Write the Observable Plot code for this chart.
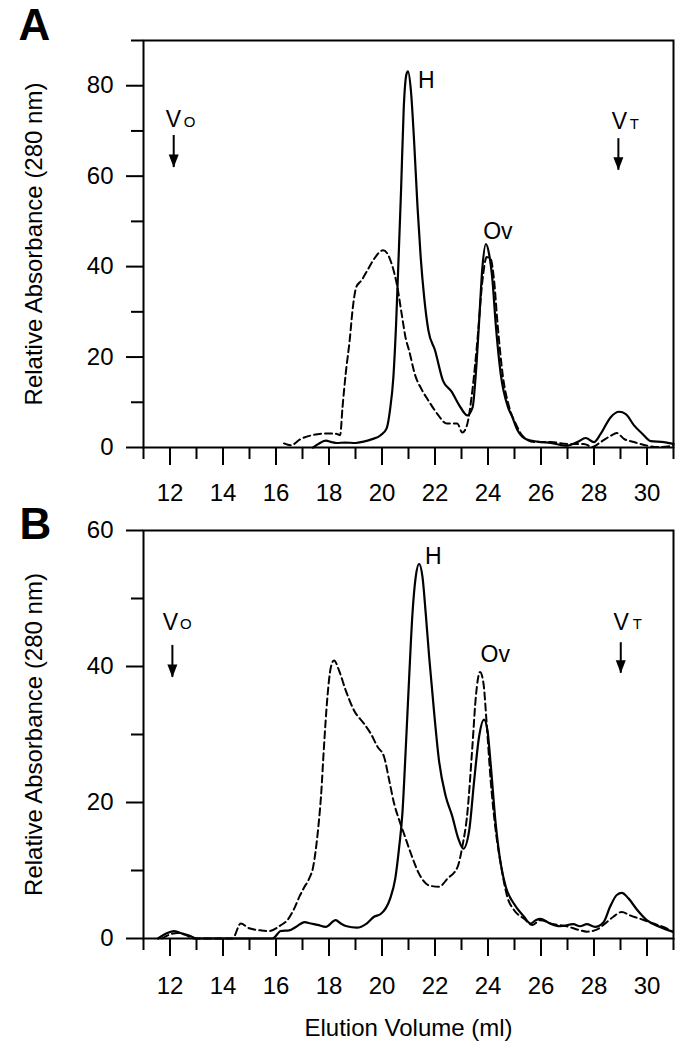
<!DOCTYPE html>
<html><head><meta charset="utf-8">
<script src="https://cdn.jsdelivr.net/npm/d3@7"></script>
<script src="https://cdn.jsdelivr.net/npm/@observablehq/plot@0.6"></script>
<style>body{margin:0;background:#fff} #chart svg{display:block}</style>
</head><body><div id="chart"></div>
<script>
// ---------- data ----------
const xMajor = [12, 14, 16, 18, 20, 22, 24, 26, 28, 30];
const xMinor = [11, 13, 15, 17, 19, 21, 23, 25, 27, 29, 31];
const yMajorA = [0, 20, 40, 60, 80];
const yMinorA = [10, 30, 50, 70, 90];
const yMajorB = [0, 20, 40, 60];
const yMinorB = [10, 30, 50];

// Panel A – solid trace
const volA_solid = [17.4,17.6,17.88,18.1,18.3,18.6,19.0,19.3,19.6,19.95,20.18,20.3,20.43,20.53,20.62,20.72,20.82,20.92,20.98,21.09,21.21,21.34,21.46,21.59,21.75,22.0,22.3,22.62,22.96,23.22,23.42,23.54,23.66,23.79,23.92,24.04,24.17,24.29,24.48,24.75,24.9,25.1,25.42,25.86,26.37,27.0,27.37,27.69,28.0,28.25,28.63,28.95,29.2,29.51,29.83,30.14,30.64,31.0];
const absA_solid = [0,0.8,1.5,1.2,1.0,1.1,1.0,1.3,1.8,2.7,4.3,8.2,15.6,27,41,57,75,82.5,83.2,79,67.9,53.2,42.1,33.3,25.9,21.5,14.8,12.4,8.9,7.1,8.9,16.3,27.4,39.9,45,42.8,36.9,27.4,16.3,9,7,4.0,1.9,1.3,1.0,0.4,1.2,2.1,1.2,3.0,6.7,7.9,7.4,4.9,3.0,1.4,1.2,0.8];

// Panel A – dashed trace
const volA_dashed = [16.3,16.56,16.94,17.43,17.95,18.3,18.42,18.51,18.63,18.78,18.9,19.03,19.22,19.45,19.69,20.04,20.21,20.38,20.57,20.73,20.9,21.02,21.25,21.5,21.75,22.08,22.45,22.84,23.03,23.2,23.41,23.6,23.79,23.95,24.1,24.23,24.36,24.55,24.8,25.05,25.3,25.74,26.37,27.0,27.62,27.94,28.25,28.63,28.86,29.13,29.51,30.02,30.4,31.0];
const absA_dashed = [0.9,0.5,1.9,2.8,3.1,3.0,2.7,8.9,16.3,23.7,31,35.5,36.9,39.2,41.6,43.6,42.8,40.3,35.8,30,24,21.5,16,12.8,10.4,7.5,5.3,5.3,3.3,4.8,12.6,23.7,36.9,42.1,41.7,36.9,27.4,16.3,8.9,5.2,2.6,1.2,1.2,0.8,0.8,0.1,1.2,2.6,3.2,1.9,1.2,0.4,0.1,0.4];

// Panel B – solid trace
const volB_solid = [11.55,11.9,12.16,12.47,12.79,12.98,15.87,16.18,16.5,16.75,17.08,17.31,17.57,17.88,18.25,18.45,18.67,19.05,19.42,19.7,19.95,20.3,20.5,20.65,20.77,20.9,21.02,21.15,21.27,21.4,21.53,21.65,21.78,21.97,22.15,22.4,22.65,22.87,23.07,23.29,23.48,23.66,23.85,23.98,24.1,24.29,24.48,24.67,24.98,25.36,25.61,25.8,25.99,26.34,26.72,27.22,27.47,27.73,28.04,28.36,28.61,28.86,29.05,29.3,29.61,29.99,30.49,30.97];
const absB_solid = [0,0.8,1.07,0.72,0.33,0,0,1.1,1.2,1.7,2.4,2.2,2.0,1.7,2.7,2.2,1.8,1.6,2.2,3.2,3.6,5.8,8.8,13.5,18.4,28.2,38.0,47.8,53.1,55.1,53.1,47.8,41.4,33.1,26.2,21.0,18.0,14.8,13.2,15.9,23.3,29.6,32.2,30.6,25.7,16.9,11.0,7.6,5.1,3.2,2.2,2.7,2.9,2.2,1.8,2.1,1.8,2.1,1.7,2.4,4.7,6.4,6.7,5.9,4.3,2.7,1.7,1.0];

// Panel B – dashed trace
const volB_dashed = [11.7,12.0,12.3,12.6,12.9,14.36,14.67,14.99,15.43,15.74,16.18,16.43,16.7,16.9,17.06,17.25,17.4,17.5,17.6,17.7,17.81,17.94,18.07,18.19,18.38,18.63,18.95,19.32,19.58,19.83,20.08,20.27,20.46,20.65,20.83,21.09,21.4,21.78,22.15,22.47,22.85,23.03,23.22,23.41,23.54,23.7,23.83,23.95,24.1,24.29,24.48,24.73,24.98,25.36,25.68,25.97,26.47,26.97,27.47,27.73,28.1,28.48,28.73,29.05,29.36,29.74,30.24,30.74,30.97];
const absB_dashed = [0,0.6,0.8,0.5,0,0,2.2,1.5,1.2,1.1,1.95,2.7,4.5,6.3,7.5,8.8,10.5,13,16.5,21,28.2,35.5,39.9,40.9,39.4,36.5,33.5,31.6,30.1,28.2,26.7,23.3,19.8,17.4,15.4,12.5,9.5,7.8,7.6,8.8,10.5,13.5,18.4,28.2,35.5,39.2,37.5,31.6,23.3,15.9,11.0,6.1,4.2,2.9,2.0,2.7,2.1,1.8,1.2,1.0,1.3,2.4,3.2,3.9,3.4,2.9,2.2,1.5,1.0];

// Annotations (data units)
const labelsA = [{text:"V", x:11.84, y:72.4}, {text:"V", x:28.67, y:72.1}, {text:"H", x:21.36, y:81.2}, {text:"Ov", x:23.82, y:47.8}];
const subsA = [{text:"O", x:12.52, y:71.9}, {text:"T", x:29.35, y:71.6}];
const arrowsA = [{x:12.14, top:69.0, tip:61.9}, {x:28.92, top:68.3, tip:61.3}];
const labelsB = [{text:"V", x:11.73, y:46.5}, {text:"V", x:28.74, y:46.5}, {text:"H", x:21.62, y:56.1}, {text:"Ov", x:23.72, y:41.7}];
const subsB = [{text:"O", x:12.38, y:46.15}, {text:"T", x:29.46, y:46.15}];
const arrowsB = [{x:12.09, top:43.1, tip:38.4}, {x:29.01, top:43.5, tip:39.0}];

const yTitle = "Relative Absorbance (280 nm)";
const xTitle = "Elution Volume (ml)";

// ---------- drawing ----------
const toRows = (xs, ys) => xs.map((v, i) => ({x: v, y: ys[i]}));
const arrowHead = {draw(ctx) { ctx.moveTo(0, 0); ctx.lineTo(-5, -13); ctx.lineTo(5, -13); ctx.closePath(); }};
const font = "'Liberation Sans', Arial, Helvetica, sans-serif";

function panel(cfg) {
  const marks = [
    Plot.line(cfg.dashed, {x: "x", y: "y", curve: "monotone-x", stroke: "black", strokeWidth: 2, strokeDasharray: "7,4"}),
    Plot.line(cfg.solid, {x: "x", y: "y", curve: "monotone-x", stroke: "black", strokeWidth: 2.2}),
    Plot.frame({stroke: "black", strokeWidth: 2}),
    Plot.axisY(cfg.yMajor, {tickSize: 17, tickPadding: 13, fontSize: 24, strokeWidth: 2, label: null}),
    Plot.axisY(cfg.yMinor, {tickSize: 12, tickFormat: () => "", strokeWidth: 2, label: null}),
    Plot.axisX(xMajor, {tickSize: 18, tickPadding: cfg.xPad, fontSize: 24, strokeWidth: 2, label: null}),
    Plot.axisX(xMinor, {tickSize: 12, tickFormat: () => "", strokeWidth: 2, label: null}),
    Plot.ruleX(cfg.arrows, {x: "x", y1: "top", y2: "tip", stroke: "black", strokeWidth: 2}),
    Plot.dot(cfg.arrows, {x: "x", y: "tip", symbol: arrowHead, fill: "black", stroke: "none"}),
    Plot.text(cfg.labels, {x: "x", y: "y", text: "text", fontSize: 23, textAnchor: "start", lineAnchor: "middle", fill: "black"}),
    Plot.text(cfg.subs, {x: "x", y: "y", text: "text", fontSize: 15, textAnchor: "start", lineAnchor: "middle", fill: "black"}),
    Plot.text([cfg.letter], {frameAnchor: "top-left", dx: cfg.letterDx, dy: cfg.letterDy, fontSize: 44, fontWeight: "bold", textAnchor: "start", lineAnchor: "middle", fill: "black"}),
    Plot.text([yTitle], {frameAnchor: "left", rotate: -90, dx: -109, fontSize: 24, textAnchor: "middle", lineAnchor: "middle", fill: "black"})
  ];
  if (cfg.xTitle) marks.push(Plot.text([cfg.xTitle], {frameAnchor: "bottom", dy: 90, fontSize: 24, textAnchor: "middle", lineAnchor: "middle", fill: "black"}));
  return Plot.plot({
    width: 696,
    height: cfg.height,
    marginLeft: 143,
    marginRight: 23,
    marginTop: cfg.marginTop,
    marginBottom: cfg.marginBottom,
    x: {domain: [11, 31]},
    y: {domain: cfg.yDomain},
    style: {fontFamily: font, color: "black", background: "white", overflow: "visible"},
    marks
  });
}

const chart = document.getElementById("chart");
chart.appendChild(panel({
  height: 505, marginTop: 40, marginBottom: 58, yDomain: [0, 90],
  yMajor: yMajorA, yMinor: yMinorA, xPad: 18,
  solid: toRows(volA_solid, absA_solid), dashed: toRows(volA_dashed, absA_dashed),
  labels: labelsA, subs: subsA, arrows: arrowsA,
  letter: "A", letterDx: -125, letterDy: -14.1
}));
chart.appendChild(panel({
  height: 545, marginTop: 25, marginBottom: 112, yDomain: [0, 60],
  yMajor: yMajorB, yMinor: yMinorB, xPad: 20,
  solid: toRows(volB_solid, absB_solid), dashed: toRows(volB_dashed, absB_dashed),
  labels: labelsB, subs: subsB, arrows: arrowsB,
  letter: "B", letterDx: -124, letterDy: -5.1, xTitle
}));
</script></body></html>
